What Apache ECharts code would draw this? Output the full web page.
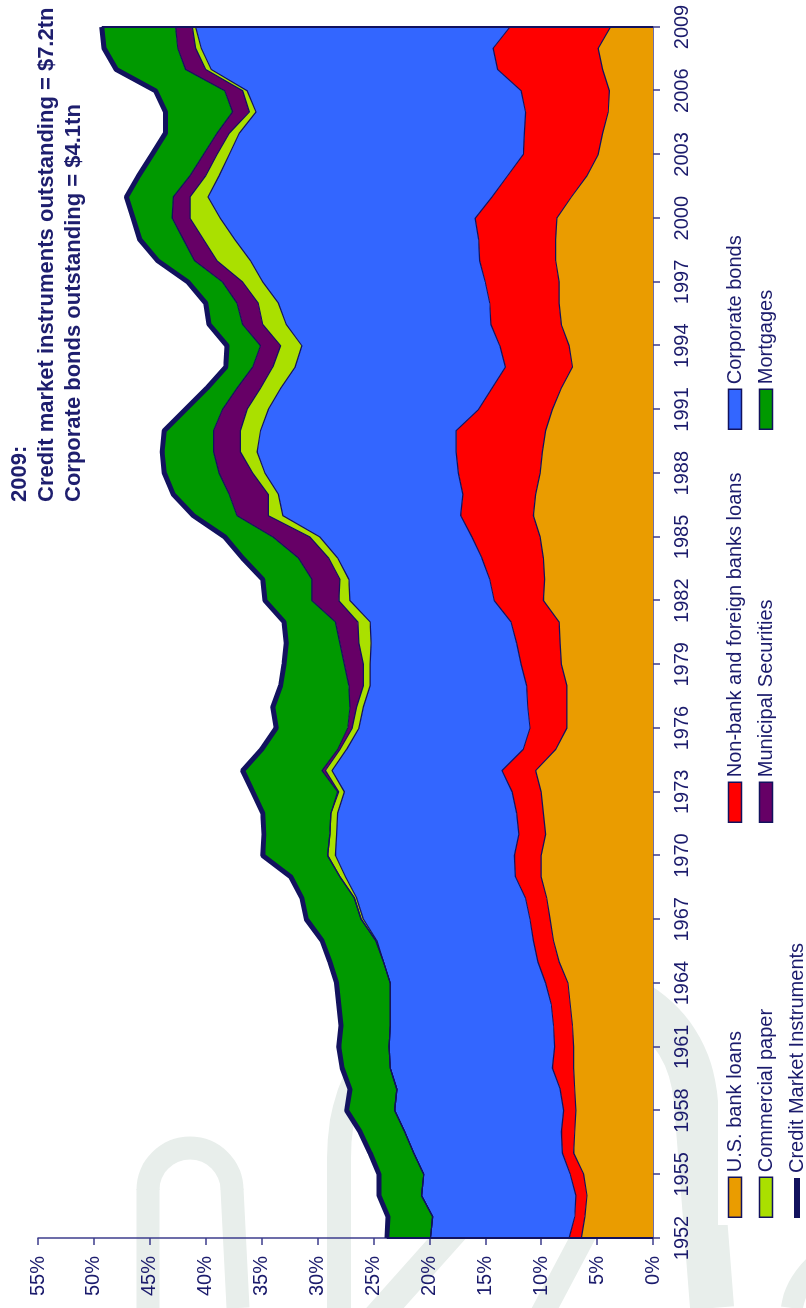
<!DOCTYPE html>
<html>
<head>
<meta charset="utf-8">
<script src="https://cdn.jsdelivr.net/npm/echarts@6/dist/echarts.min.js"></script>
<style>
  html, body { margin: 0; padding: 0; background: #fff; width: 806px; height: 1308px; overflow: hidden; }
  #page { position: absolute; left: 0; top: 0; width: 806px; height: 1308px; overflow: hidden; background: #fff; }
  /* the chart is laid out landscape and turned a quarter turn counter-clockwise */
  #chart { position: absolute; left: 0; top: 0; width: 1308px; height: 806px;
           transform-origin: 0 0; transform: translate(0, 1308px) rotate(-90deg); }
</style>
</head>
<body>
<div id="page"><div id="chart"></div></div>
<script>
// Share of each instrument, percent, 1952-2009
const years = ['1952','1953','1954','1955','1956','1957','1958','1959','1960','1961',
  '1962','1963','1964','1965','1966','1967','1968','1969','1970','1971',
  '1972','1973','1974','1975','1976','1977','1978','1979','1980','1981',
  '1982','1983','1984','1985','1986','1987','1988','1989','1990','1991',
  '1992','1993','1994','1995','1996','1997','1998','1999','2000','2001',
  '2002','2003','2004','2005','2006','2007','2008','2009'];

const usBankLoans = [6.4,6.1,5.9,6.2,7.1,7.0,6.9,7.0,7.1,7.1,
  7.2,7.4,7.6,8.4,8.9,9.2,9.5,10.0,10.0,9.6,
  9.8,10.0,10.5,8.7,7.7,7.7,7.7,8.2,8.3,8.4,
  9.8,9.7,9.8,10.1,10.7,10.5,10.1,9.9,9.6,9.0,
  8.2,7.2,7.5,8.2,8.4,8.4,8.7,8.7,8.6,7.3,
  5.9,4.9,4.5,4.0,3.9,4.5,4.9,3.8];

const nonBankLoans = [1.1,0.9,1.0,1.2,1.0,1.2,1.1,1.3,1.9,1.7,
  1.7,1.7,2.0,1.9,1.8,1.8,1.9,2.3,2.4,2.4,
  2.4,2.6,3.0,2.9,3.3,3.5,3.6,3.6,3.9,4.3,
  4.4,4.9,5.5,6.1,6.5,6.5,7.3,7.7,8.0,6.6,
  6.2,6.0,6.2,6.3,6.2,6.6,6.8,6.9,7.3,7.1,
  7.1,6.7,7.0,7.4,7.9,9.4,9.4,9.0];

const corporateBonds = [12.4,12.7,13.8,13.1,13.3,14.0,15.1,14.6,14.5,14.8,
  14.6,14.4,13.9,13.8,14.0,14.9,15.1,15.2,16.0,16.3,
  16.0,15.0,15.2,15.8,15.3,14.7,14.0,13.5,13.0,12.6,
  12.9,12.6,12.9,13.6,15.9,16.5,17.3,17.8,17.5,18.8,
  18.9,18.8,17.7,18.3,18.9,19.9,20.5,21.8,22.8,25.4,
  25.8,26.3,25.5,24.1,24.5,25.6,26.1,28.1];

const commercialPaper = [0,0,0,0,0,0,0,0,0,0,
  0,0,0,0,0.1,0.2,0.2,0.5,0.7,0.6,
  0.6,0.5,0.6,0.6,0.6,0.6,0.6,0.6,1.1,1.1,
  1.0,0.8,0.8,0.9,1.3,0.9,1.1,1.5,1.8,1.9,
  1.8,2.0,1.9,2.1,1.8,1.8,3.0,2.8,2.7,1.6,
  1.2,1.1,0.9,0.6,0.4,0.5,0.5,0.3];

const municipalSecurities = [0,0,0,0,0,0,0,0,0,0,
  0,0,0,0,0,0,0,0,0,0,
  0,0.1,0.3,0.2,0.4,0.6,1.3,1.7,1.7,2.0,
  2.4,2.5,2.7,3.3,2.8,3.5,3.0,2.4,2.4,2.2,
  2.1,1.8,1.8,1.8,1.9,1.8,2.0,1.8,1.6,1.5,
  1.4,1.2,1.1,1.5,1.6,1.8,1.6,1.5];

const mortgages = [3.9,4.0,3.8,4.0,3.9,4.0,4.3,4.2,4.3,4.5,
  4.4,4.6,4.8,4.8,4.8,4.9,4.7,4.4,5.8,5.9,
  6.1,7.6,7.1,6.8,6.4,6.9,6.1,5.4,4.8,4.6,
  4.2,4.4,5.0,4.3,3.9,5.0,4.9,4.6,4.4,3.3,
  2.7,2.4,3.0,3.0,2.8,3.1,3.3,3.9,3.5,4.2,
  4.6,4.6,4.6,6.0,6.2,6.2,6.6,6.6];

const percentTicks = { min: 0, max: 55, step: 5 };

const titleLines = [
  '2009:',
  'Credit market instruments outstanding = $7.2tn',
  'Corporate bonds outstanding = $4.1tn'
];

// Credit market instruments: top of the stack
const creditMarketTotal = years.map((_, i) =>
  Math.round((usBankLoans[i] + nonBankLoans[i] + corporateBonds[i] +
              commercialPaper[i] + municipalSecurities[i] + mortgages[i]) * 10) / 10);

const NAVY = '#12125e';
const AXIS = '#3d3d8c';
const TEXT = '#1b1b6c';
const FONT = '"Liberation Sans", Arial, Helvetica, sans-serif';
const WASH = '#e8eeeb';

const palette = {
  'U.S. bank loans': '#ea9c00',
  'Non-bank and foreign banks loans': '#ff0000',
  'Corporate bonds': '#3366ff',
  'Commercial paper': '#aae000',
  'Municipal Securities': '#660066',
  'Mortgages': '#009900'
};

function stackedArea(name, data) {
  return {
    name, type: 'line', stack: 'credit', data,
    symbol: 'none', showSymbol: false,
    lineStyle: { color: NAVY, width: 1.2 },
    itemStyle: { color: palette[name] },
    areaStyle: { color: palette[name], opacity: 1 },
    emphasis: { disabled: true },
    silent: true, z: 2
  };
}

function legendItem(name) {
  return { name, icon: 'rect',
    itemStyle: { color: palette[name], borderColor: NAVY, borderWidth: 1.5 } };
}

function legendColumn(left, top, names) {
  return {
    orient: 'vertical', left, top, padding: 0,
    itemWidth: 40, itemHeight: 13, itemGap: 11,
    selectedMode: false,
    textStyle: { fontSize: 20, color: TEXT, fontFamily: FONT, lineHeight: 20 },
    data: names.map(legendItem)
  };
}

// background lettering strokes
const washStyle = (w) => ({ fill: null, stroke: WASH, lineWidth: w });
function washLine(x1, y1, x2, y2, w) {
  return { type: 'line', z: -10, silent: true, shape: { x1, y1, x2, y2 }, style: washStyle(w) };
}
function washCurve(shape, w) {
  return { type: 'bezierCurve', z: -10, silent: true, shape, style: washStyle(w) };
}

const chart = echarts.init(document.getElementById('chart'), null, { renderer: 'canvas' });

chart.setOption({
  animation: false,
  backgroundColor: '#fff',
  title: {
    text: titleLines.join('\n'),
    left: 806, top: 6, padding: 0,
    textStyle: { fontSize: 22, fontWeight: 'bold', color: '#1e1e6e', fontFamily: FONT, lineHeight: 27 }
  },
  graphic: [
    washLine(0, 148, 119, 148, 23),
    { type: 'arc', z: -10, silent: true,
      shape: { cx: 118, cy: 190, r: 42, startAngle: -Math.PI / 2, endAngle: Math.PI / 2, clockwise: true },
      style: washStyle(23) },
    washLine(119, 232, 0, 238, 23),
    washLine(0, 339, 151, 339, 24),
    washCurve({ x1: 150, y1: 339, cpx1: 250, cpy1: 339, cpx2: 300, cpy2: 400, x2: 330, y2: 480 }, 24),
    washCurve({ x1: 330, y1: 480, cpx1: 345, cpy1: 600, cpx2: 300, cpy2: 690, x2: 205, y2: 696 }, 44),
    washLine(206, 696, 0, 712, 44),
    washLine(-10, 376, 140, 510, 28),
    washLine(-10, 540, 75, 585, 24),
    washCurve({ x1: 0, y1: 792, cpx1: 30, cpy1: 796, x2: 55, y2: 830 }, 22),
    // legend backdrop
    { type: 'rect', z: -9, silent: true,
      shape: { x: 83, y: 718, width: 1225, height: 88 },
      style: { fill: '#ffffff' } }
  ],
  legend: [
    legendColumn(90, 725, ['U.S. bank loans', 'Commercial paper']),
    legendColumn(485, 725, ['Non-bank and foreign banks loans', 'Municipal Securities']),
    legendColumn(878, 725, ['Corporate bonds', 'Mortgages']),
    {
      orient: 'vertical', left: 90, top: 787, padding: 0,
      itemWidth: 40, itemHeight: 6, selectedMode: false,
      textStyle: { fontSize: 20, color: TEXT, fontFamily: FONT, lineHeight: 20 },
      data: [{ name: 'Credit Market Instruments', icon: 'rect', itemStyle: { color: NAVY } }]
    }
  ],
  grid: { left: 70, right: 27, top: 38, bottom: 153, containLabel: false },
  xAxis: {
    type: 'category', data: years, boundaryGap: false,
    axisLine: { lineStyle: { color: AXIS, width: 1.5 } },
    axisTick: { interval: 2, length: 7, lineStyle: { color: AXIS, width: 1.5 } },
    axisLabel: { interval: 2, fontSize: 20, color: TEXT, margin: 19, fontFamily: FONT },
    splitLine: { show: false }
  },
  yAxis: {
    type: 'value', min: percentTicks.min, max: percentTicks.max, interval: percentTicks.step,
    axisLine: { show: true, lineStyle: { color: AXIS, width: 1.5 } },
    axisTick: { show: true, length: 7, lineStyle: { color: AXIS, width: 1.5 } },
    axisLabel: { formatter: '{value}%', fontSize: 20, color: TEXT, margin: 18, fontFamily: FONT },
    splitLine: { show: false }
  },
  series: [
    stackedArea('U.S. bank loans', usBankLoans),
    stackedArea('Non-bank and foreign banks loans', nonBankLoans),
    stackedArea('Corporate bonds', corporateBonds),
    stackedArea('Commercial paper', commercialPaper),
    stackedArea('Municipal Securities', municipalSecurities),
    stackedArea('Mortgages', mortgages),
    {
      name: 'Credit Market Instruments', type: 'line', data: creditMarketTotal,
      symbol: 'none', showSymbol: false,
      lineStyle: { color: NAVY, width: 5 },
      itemStyle: { color: NAVY },
      emphasis: { disabled: true }, silent: true, z: 5,
      markLine: {
        silent: true, symbol: ['none', 'none'], animation: false,
        label: { show: false },
        lineStyle: { color: NAVY, width: 2, type: 'solid' },
        data: [
          [{ coord: [years[0], 0] }, { coord: [years[0], creditMarketTotal[0]] }],
          [{ coord: [years[years.length - 1], 0] },
           { coord: [years[years.length - 1], creditMarketTotal[years.length - 1]] }]
        ]
      }
    }
  ]
});
</script>
</body>
</html>
